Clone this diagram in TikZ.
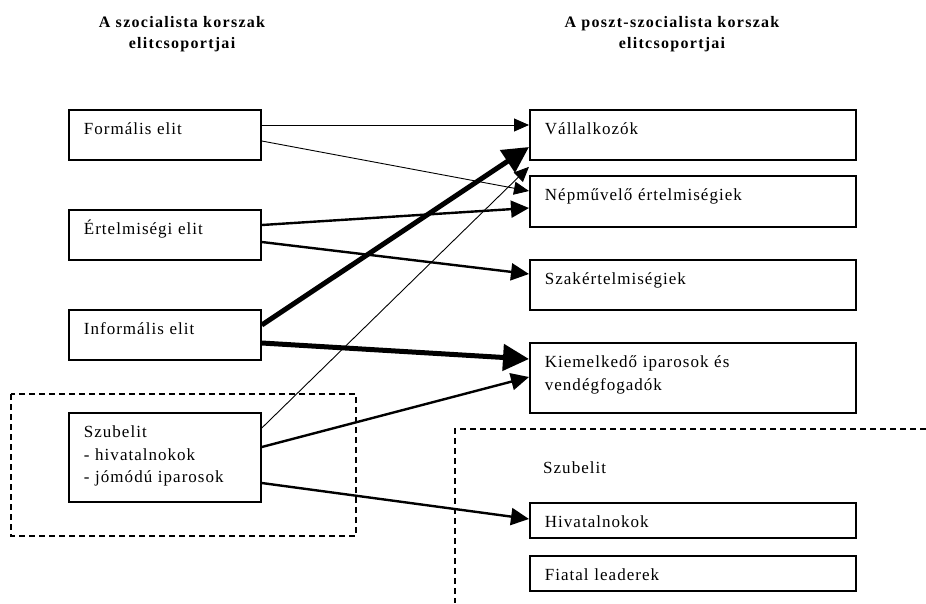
\documentclass[tikz,border=0pt]{standalone}
\usepackage{fontspec}
\setmainfont{Liberation Serif}[LetterSpace=6]
\newfontfamily\headfont{Liberation Serif}[LetterSpace=8]
\usetikzlibrary{arrows.meta}

\tikzset{
  lbox/.style={draw, line width=1.8pt, anchor=north west, inner xsep=15pt, inner ysep=0pt,
    text width=162pt, align=left, text height=25pt, font=\fontsize{17}{22.5}\selectfont},
  rbox/.style={lbox, text width=296pt},
  thinarr/.style={line width=0.9pt, -{Triangle[length=15pt,width=13pt]}},
  midarr/.style={line width=2.4pt, -{Triangle[length=18pt,width=17pt]}},
  thickarr/.style={line width=5pt, -{Triangle[length=26pt,width=26pt]}},
  dashbox/.style={line width=1.2pt, dash pattern=on 6pt off 4pt},
  head/.style={anchor=north, inner sep=0pt, align=center,
    font=\headfont\bfseries\fontsize{16}{21}\selectfont}
}

\begin{document}
\begin{tikzpicture}[x=1pt, y=-1pt]
  \useasboundingbox (0,0) rectangle (926,603);

  \node[head] (lhead) at (182,16) {A szocialista korszak\\elitcsoportjai};
  \node[head] (rhead) at (672,16) {A poszt-szocialista korszak\\elitcsoportjai};

  % regi elitek
  \node[lbox, text depth=25pt] (formal) at (68,109) {Formális elit};
  \node[lbox, text depth=25pt] (ertelm) at (68,209) {Értelmiségi elit};
  \node[lbox, text depth=25pt] (informal) at (68,309) {Informális elit};
  \node[lbox, text depth=64pt] (szubelit) at (68,412) {Szubelit\\- hivatalnokok\\- jómódú iparosok};
  \draw[dashbox] (11,394) rectangle (356,536);

  % uj elitek
  \node[rbox, text depth=25pt] (vallalk) at (529,109) {Vállalkozók};
  \node[rbox, text depth=26pt] (nepmuv) at (529,175) {Népművelő értelmiségiek};
  \node[rbox, text depth=25pt] (szakert) at (529,259) {Szakértelmiségiek};
  \node[rbox, text depth=45pt] (kiemelk) at (529,342) {Kiemelkedő iparosok és\\vendégfogadók};
  \node[anchor=base west, inner sep=0pt, font=\fontsize{17}{22.5}\selectfont] (szublabel) at (543,473) {Szubelit};
  \node[rbox, text depth=10pt] (hivatal) at (529,502) {Hivatalnokok};
  \node[rbox, text depth=10pt] (fiatal) at (529,555) {Fiatal leaderek};
  \draw[dashbox] (926,429) -| (455,603);

  \coordinate (gap) at ([yshift=-6pt]vallalk.south west);

  \draw[thinarr] ([yshift=-16pt]formal.north east) -- ([yshift=-16pt]vallalk.north west);
  \draw[thinarr] ([yshift=-32pt]formal.north east) -- ([yshift=-16pt]nepmuv.north west);
  \draw[midarr] ([yshift=-16pt]ertelm.north east) -- ([yshift=-33pt]nepmuv.north west);
  \draw[midarr] ([yshift=-33pt]ertelm.north east) -- ([yshift=-15pt]szakert.north west);
  \draw[thickarr] ([yshift=-16pt]informal.north east) -- ([yshift=-38pt]vallalk.north west);
  \draw[thickarr] ([yshift=-34pt]informal.north east) -- ([yshift=-17pt]kiemelk.north west);
  \draw[thinarr] ([yshift=-16pt]szubelit.north east) -- (gap);
  \draw[midarr] ([yshift=-35pt]szubelit.north east) -- ([yshift=-35pt]kiemelk.north west);
  \draw[midarr] ([yshift=-71pt]szubelit.north east) -- ([yshift=-17pt]hivatal.north west);
\end{tikzpicture}
\end{document}
